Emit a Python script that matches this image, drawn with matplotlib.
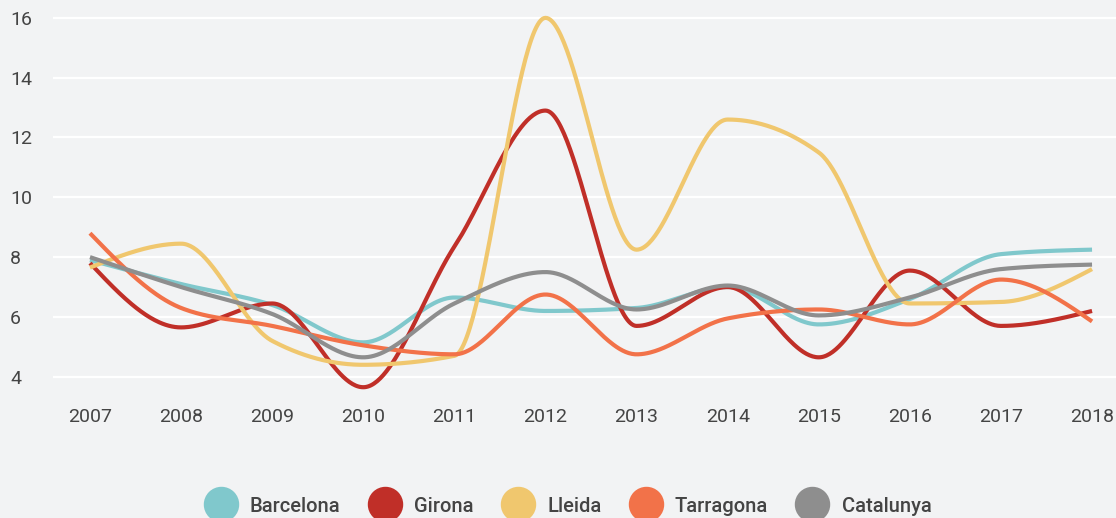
import numpy as np
import matplotlib
matplotlib.use("Agg")
import matplotlib.pyplot as plt
from matplotlib.lines import Line2D

plt.rcParams['font.family'] = ['Roboto', 'DejaVu Sans']

years = [2007, 2008, 2009, 2010, 2011, 2012, 2013, 2014, 2015, 2016, 2017, 2018]
barcelona = [7.9, 7.1, 6.4, 5.15, 6.65, 6.2, 6.3, 7.0, 5.75, 6.6, 8.1, 8.25]
girona = [7.8, 5.65, 6.45, 3.65, 8.35, 12.9, 5.7, 7.0, 4.65, 7.55, 5.7, 6.2]
lleida = [7.65, 8.45, 5.2, 4.4, 4.7, 16.0, 8.25, 12.6, 11.5, 6.45, 6.5, 7.6]
tarragona = [8.8, 6.3, 5.7, 5.05, 4.75, 6.75, 4.75, 5.95, 6.25, 5.75, 7.25, 5.85]
catalunya = [8.0, 7.0, 6.1, 4.65, 6.45, 7.5, 6.25, 7.05, 6.05, 6.65, 7.6, 7.75]

names = ["Barcelona", "Girona", "Lleida", "Tarragona", "Catalunya"]
series = [barcelona, girona, lleida, tarragona, catalunya]
colors = ["#80c8cc", "#c02f28", "#f0c76e", "#f27249", "#8e8e8e"]


# corba monòtona (com d3.curveMonotoneX)
def monotone(x, y, n=60):
    x = np.asarray(x, float)
    y = np.asarray(y, float)
    k = len(x)
    s = np.diff(y) / np.diff(x)
    h = np.diff(x)
    t = np.zeros(k)
    for i in range(1, k - 1):
        p = (s[i - 1] * h[i] + s[i] * h[i - 1]) / (h[i - 1] + h[i])
        t[i] = (np.sign(s[i - 1]) + np.sign(s[i])) * min(abs(s[i - 1]), abs(s[i]), 0.5 * abs(p))
    t[0] = (3 * s[0] - t[1]) / 2
    t[-1] = (3 * s[-1] - t[-2]) / 2
    xs, ys = [], []
    for i in range(k - 1):
        u = np.linspace(0, 1, n)
        hh = h[i]
        h00 = 2 * u**3 - 3 * u**2 + 1
        h10 = u**3 - 2 * u**2 + u
        h01 = -2 * u**3 + 3 * u**2
        h11 = u**3 - u**2
        xs.append(x[i] + u * hh)
        ys.append(h00 * y[i] + h10 * hh * t[i] + h01 * y[i + 1] + h11 * hh * t[i + 1])
    return np.concatenate(xs), np.concatenate(ys)


bg = "#f2f3f4"
fig = plt.figure(figsize=(11.16, 5.18), dpi=100, facecolor=bg)
ax = fig.add_axes([53 / 1116, 1 - 395 / 518, 1 - 53 / 1116, (395 - 8) / 518])
ax.set_facecolor(bg)

for vals, c in zip(series, colors):
    xs, ys = monotone(years, vals)
    ax.plot(xs, ys, color=c, lw=3.0, solid_capstyle="butt")

ax.set_xlim(2006.594, 2018.263)
ax.set_ylim(3.39, 16.33)
ax.set_yticks([4, 6, 8, 10, 12, 14, 16])
ax.set_xticks(years)
ax.grid(axis="y", color="white", lw=1.6)
ax.set_axisbelow(True)
for sp in ax.spines.values():
    sp.set_visible(False)
ax.tick_params(length=0, labelsize=14, labelcolor="#444444")
ax.tick_params(axis="x", pad=9)
ax.tick_params(axis="y", pad=31)
for lab in ax.get_yticklabels():
    lab.set_horizontalalignment("left")

handles = [Line2D([], [], marker="o", ls="", markersize=24.5, markerfacecolor=c,
                  markeredgecolor=c) for c in colors]
fig.legend(handles, names, loc="center", bbox_to_anchor=(0.509, 12 / 518), ncol=5,
           frameon=False, prop={"size": 14.5, "weight": "medium"}, labelcolor="#444444",
           handletextpad=0.65, columnspacing=1.4, handlelength=1.6)

fig.savefig("out.png", dpi=100, facecolor=bg)
